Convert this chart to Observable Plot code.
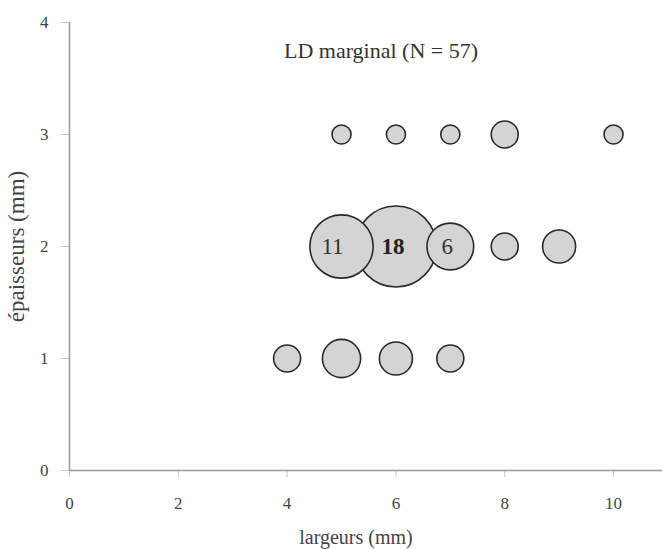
<!DOCTYPE html>
<html>
<head>
<meta charset="utf-8">
<script src="https://cdn.jsdelivr.net/npm/d3@7"></script>
<script src="https://cdn.jsdelivr.net/npm/@observablehq/plot@0.6"></script>
<style>
  html, body { margin: 0; padding: 0; background: #fff; }
  svg, svg text { font-family: 'Liberation Serif', 'DejaVu Serif', serif !important; }
</style>
</head>
<body>
<div id="chart"></div>
<script>
// Data
const largeurs   = [5, 6, 7, 8, 10,   5, 6, 7, 8, 9,   4, 5, 6, 7];
const epaisseurs = [3, 3, 3, 3, 3,    2, 2, 2, 2, 2,   1, 1, 1, 1];
const effectifs  = [1, 1, 1, 2, 1,   11, 18, 6, 2, 3,   2, 4, 3, 2];
const xTicks = [0, 2, 4, 6, 8, 10];
const yTicks = [0, 1, 2, 3, 4];
const titre = "LD marginal (N = 57)";
const xLabel = "largeurs (mm)";
const yLabel = "épaisseurs (mm)";

const data = largeurs.map((x, i) => ({x, y: epaisseurs[i], n: effectifs[i]}));
const labelled = data.filter(d => d.n >= 6);

const serif = "'Liberation Serif', 'DejaVu Serif', serif";
const fmt = d3.format("d");

const chart = Plot.plot({
  width: 662,
  height: 549,
  marginLeft: 69,
  marginRight: 0,
  marginTop: 22,
  marginBottom: 79,
  style: {fontFamily: serif, fontSize: "17px", background: "#fff", color: "#444"},
  x: {domain: [0, 10.9], ticks: xTicks, label: null},
  y: {domain: [0, 4], ticks: yTicks, label: null},
  r: {domain: [0, 18], range: [0, 40.5]},
  marks: [
    Plot.axisX({ticks: xTicks, tickFormat: fmt, tickSize: 7, tickPadding: 19, stroke: "#c8c8c8", fill: "#444", fontSize: 17, fontFamily: serif, label: null}),
    Plot.axisY({ticks: yTicks, tickFormat: fmt, tickSize: 8, tickPadding: 13, stroke: "#c8c8c8", fill: "#444", fontSize: 17, fontFamily: serif, label: null}),
    Plot.ruleY([0], {stroke: "#999", strokeWidth: 1.5}),
    Plot.ruleX([0], {stroke: "#999", strokeWidth: 1.5}),
    Plot.dot(data, {x: "x", y: "y", r: "n", fill: "#d4d4d4", stroke: "#2a2a2a", strokeWidth: 1.6}),
    Plot.text(labelled.filter(d => d.n === 11), {x: "x", y: "y", text: d => String(d.n), dx: -9, fontSize: 23, fontFamily: serif, fill: "#333"}),
    Plot.text(labelled.filter(d => d.n === 18), {x: "x", y: "y", text: d => String(d.n), dx: -3, fontSize: 23, fontFamily: serif, fontWeight: "bold", fill: "#222"}),
    Plot.text(labelled.filter(d => d.n === 6), {x: "x", y: "y", text: d => String(d.n), dx: -3, fontSize: 23, fontFamily: serif, fill: "#333"}),
    Plot.text([titre], {frameAnchor: "top", textAnchor: "middle", lineAnchor: "middle", dx: 15, dy: 28, fontSize: 22, fontFamily: serif, fill: "#333"}),
    Plot.text([xLabel], {frameAnchor: "bottom", textAnchor: "middle", lineAnchor: "middle", dx: -10, dy: 67, fontSize: 20, fontFamily: serif, fill: "#444"}),
    Plot.text([yLabel], {frameAnchor: "left", textAnchor: "middle", lineAnchor: "middle", dx: -53, dy: 0, rotate: -90, fontSize: 23, fontFamily: serif, fill: "#444"})
  ]
});
document.getElementById("chart").appendChild(chart);
</script>
</body>
</html>
